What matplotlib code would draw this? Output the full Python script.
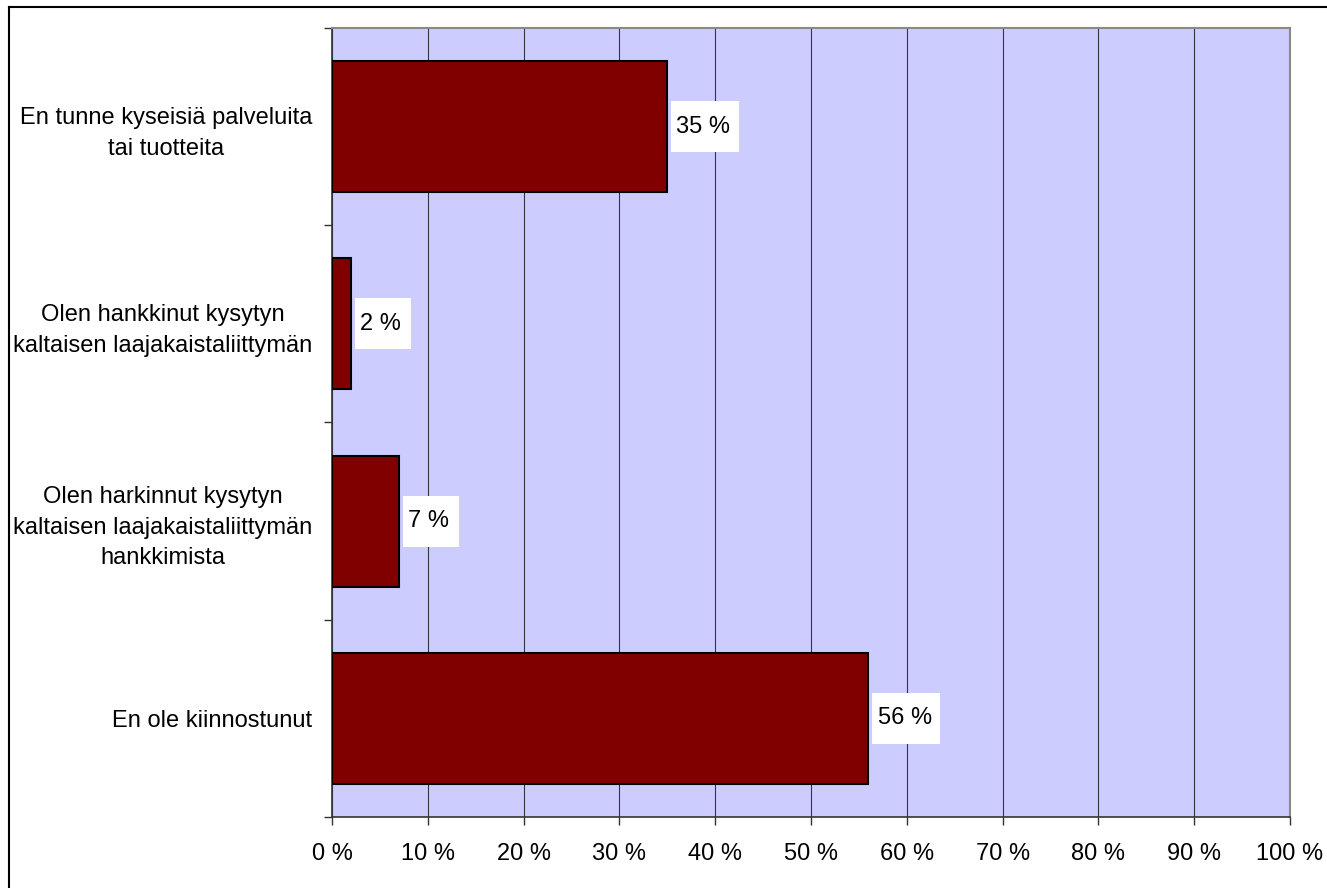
import matplotlib
matplotlib.use("Agg")
import matplotlib.pyplot as plt
from matplotlib.lines import Line2D
from matplotlib.patches import Rectangle
from matplotlib.transforms import ScaledTranslation
import numpy as np

categories = [
    "En tunne kyseisiä palveluita\ntai tuotteita",
    "Olen hankkinut kysytyn\nkaltaisen laajakaistaliittymän",
    "Olen harkinnut kysytyn\nkaltaisen laajakaistaliittymän\nhankkimista",
    "En ole kiinnostunut",
]
values = [35, 2, 7, 56]
xticks = [0, 10, 20, 30, 40, 50, 60, 70, 80, 90, 100]
xticklabels = [f"{v} %" for v in xticks]

W, H = 1327, 888
fig = plt.figure(figsize=(W / 100, H / 100), dpi=100)
plt.rcParams['font.family'] = ['Liberation Sans', 'DejaVu Sans']
ax = fig.add_axes([332 / W, 1 - 817 / H, (1290 - 332) / W, (817 - 28) / H])
ax.set_facecolor("#CCCCFF")

n = len(categories)
ypos = np.arange(n)
ax.barh(ypos, values, height=0.665, color="#800000", edgecolor="black", linewidth=1.5, zorder=3)
ax.set_xlim(0, 100)
ax.set_ylim(n - 0.5, -0.5)

ax.set_xticks(xticks)
ax.set_xticklabels(xticklabels, fontsize=17)
ax.xaxis.grid(True, color="#333344", linewidth=0.8, zorder=1)
ax.tick_params(axis="x", direction="out", length=6, width=1, pad=13, color="#333333")

ax.set_yticks(ypos)
ax.set_yticklabels(categories, fontsize=17, multialignment="center", linespacing=1.5)
ax.tick_params(axis="y", which="major", length=0, pad=14)
ax.set_yticks(np.arange(-0.5, n, 1), minor=True)
ax.tick_params(axis="y", which="minor", direction="out", length=6, width=1, color="#333333")

for s in ["left", "bottom"]:
    ax.spines[s].set_color("#333333")
    ax.spines[s].set_linewidth(1.2)
for s in ["top", "right"]:
    ax.spines[s].set_color("#888888")
    ax.spines[s].set_linewidth(1.5)

for y, v in zip(ypos, values):
    label = f"{v} %"
    trans = fig.dpi_scale_trans + ScaledTranslation(v, y, ax.transData)
    box_w = 0.68 if len(label) > 3 else 0.56
    ax.add_artist(Rectangle((0.04, -0.255), box_w, 0.51, transform=trans,
                            facecolor="white", edgecolor="none", zorder=4, clip_on=False))
    ax.annotate(label, xy=(v, y), xytext=(6.5, 0), textcoords="offset points",
                va="center", ha="left", fontsize=17, zorder=5)

fig.add_artist(Line2D([8.5 / W, 8.5 / W], [0, 1 - 7 / H], transform=fig.transFigure, color="black", linewidth=1.5))
fig.add_artist(Line2D([8.5 / W, 1], [1 - 7.5 / H, 1 - 7.5 / H], transform=fig.transFigure, color="black", linewidth=1.5))

fig.savefig("out.png", dpi=100)
